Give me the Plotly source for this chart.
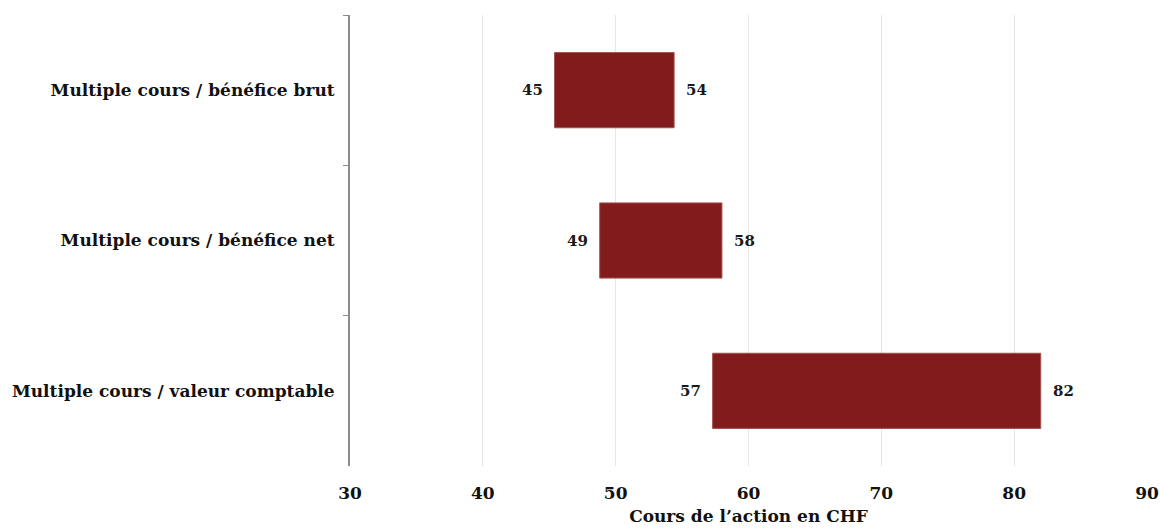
import plotly.graph_objects as go

# Valuation ranges per method (share price, CHF)
methods = [
    "Multiple cours / bénéfice brut",
    "Multiple cours / bénéfice net",
    "Multiple cours / valeur comptable",
]
low_values = [45.4, 48.8, 57.3]
high_values = [54.4, 58.0, 82.0]
x_ticks = [30, 40, 50, 60, 70, 80, 90]

bar_color = "#821B1C"
font_family = "DejaVu Serif"

widths = [h - l for l, h in zip(low_values, high_values)]

fig = go.Figure()
fig.add_trace(go.Bar(
    y=methods,
    x=widths,
    base=low_values,
    orientation="h",
    width=0.5,
    marker=dict(color=bar_color, line=dict(color="#a2504f", width=1)),
    hoverinfo="skip",
    showlegend=False,
))

# Range end labels on both sides of each bar
for m, lo, hi in zip(methods, low_values, high_values):
    fig.add_annotation(x=lo, y=m, text=f"{lo:.0f}", showarrow=False,
                       xanchor="right", xshift=-10,
                       font=dict(family=font_family, size=15, color="#1a1a1a", weight="bold"))
    fig.add_annotation(x=hi, y=m, text=f"{hi:.0f}", showarrow=False,
                       xanchor="left", xshift=10,
                       font=dict(family=font_family, size=15, color="#1a1a1a", weight="bold"))

fig.update_layout(
    width=1160,
    height=528,
    margin=dict(l=350, r=13, t=15, b=62, autoexpand=False),
    paper_bgcolor="white",
    plot_bgcolor="white",
    bargap=0.5,
    font=dict(family=font_family, color="#111111"),
)

fig.update_xaxes(
    range=[30, 90],
    tickvals=x_ticks,
    ticktext=[str(t) for t in x_ticks],
    automargin=False,
    showgrid=True,
    gridcolor="#e6e6e6",
    gridwidth=1,
    zeroline=False,
    showline=False,
    ticks="",
    ticklabelstandoff=15,
    tickfont=dict(family=font_family, size=17, color="#111111", weight="bold"),
    title=dict(text="Cours de l’action en CHF",
               font=dict(family=font_family, size=17, color="#111111", weight="bold"),
               standoff=8),
)

fig.update_yaxes(
    categoryorder="array",
    categoryarray=methods,
    autorange="reversed",
    automargin=False,
    showline=True,
    linecolor="#8c8c8c",
    linewidth=2,
    ticks="outside",
    tickson="boundaries",
    ticklen=5,
    tickcolor="#8c8c8c",
    tickwidth=1,
    showgrid=False,
    ticklabelstandoff=10,
    tickfont=dict(family=font_family, size=17, color="#111111", weight="bold"),
)

fig.write_html("out.html")
